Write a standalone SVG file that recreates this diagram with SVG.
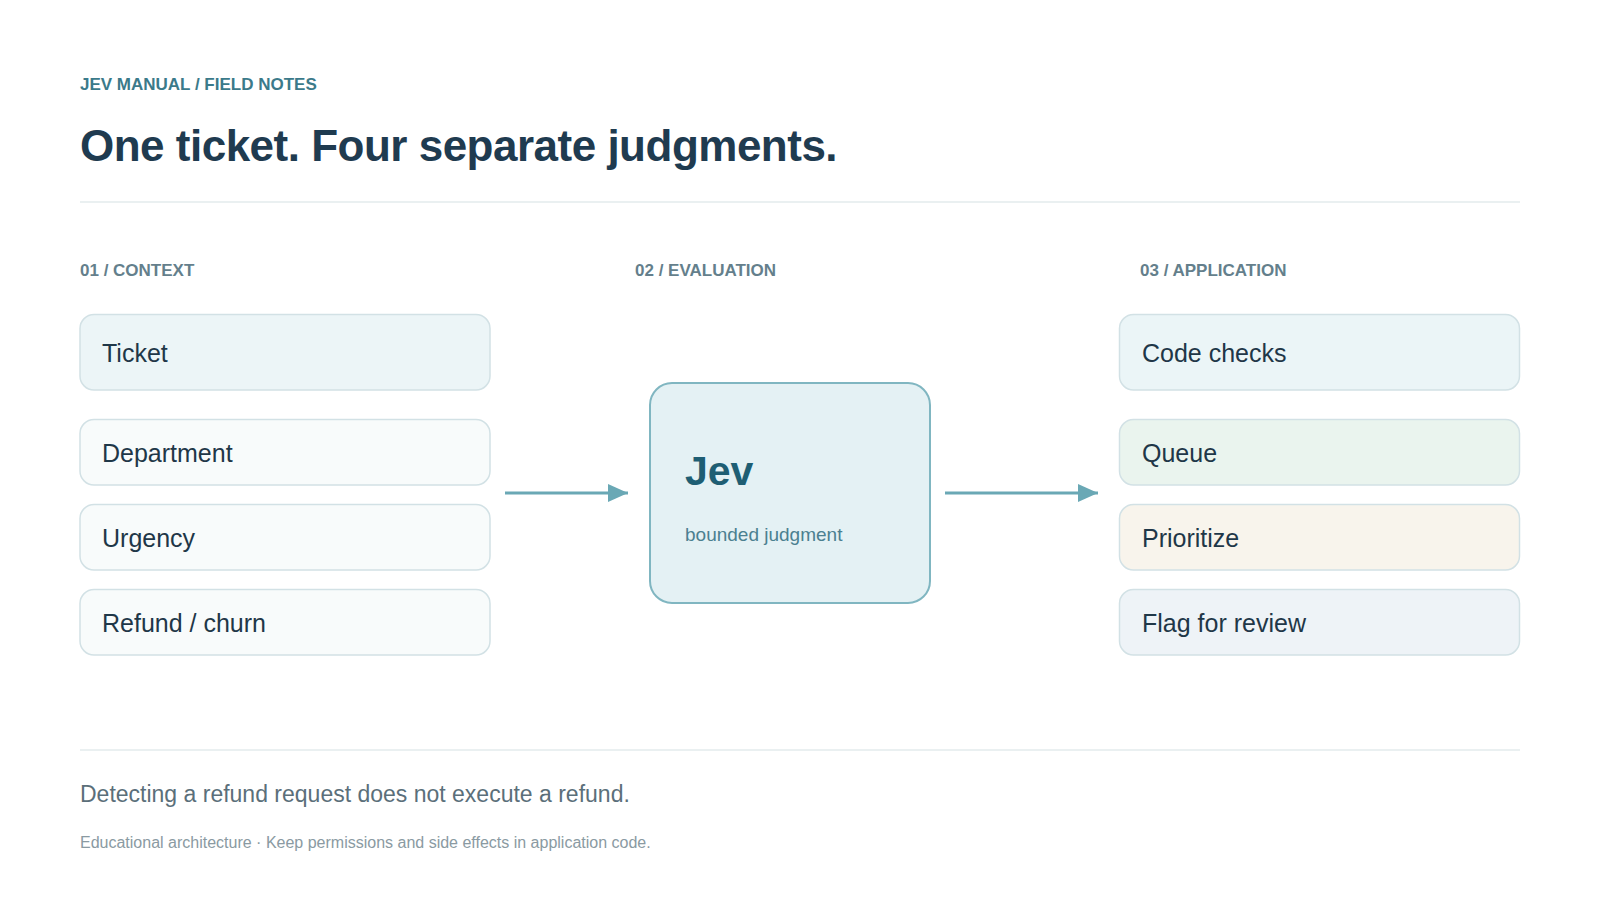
<svg xmlns="http://www.w3.org/2000/svg" width="1600" height="900" viewBox="0 0 1600 900">
  <style>
    .sans { font-family: "Liberation Sans", Arial, sans-serif; }
    .eyebrow { font-size: 17px; font-weight: bold; fill: #3b7a8a; }
    .title { font-size: 44px; font-weight: bold; fill: #1f3b50; letter-spacing: -0.5px; }
    .section { font-size: 17px; font-weight: bold; fill: #647f8c; }
    .box { stroke: #d2e1e5; stroke-width: 1.5; }
    .label { font-size: 25px; fill: #1f3748; }
    .divider { stroke: #e3ebed; stroke-width: 1.5; }
    .arrow { stroke: #6aa8b5; stroke-width: 3; fill: none; }
  </style>
  <defs>
    <marker id="arrowhead" viewBox="0 0 20 20" refX="20" refY="10" markerWidth="20" markerHeight="20" markerUnits="userSpaceOnUse" orient="auto">
      <path d="M0,1 L20,10 L0,19 Z" fill="#6aa8b5"/>
    </marker>
  </defs>
  <rect x="0" y="0" width="1600" height="900" fill="#ffffff"/>

  <g id="header" class="sans">
    <text class="eyebrow" x="80" y="90">JEV MANUAL / FIELD NOTES</text>
    <text class="title" x="80" y="161">One ticket. Four separate judgments.</text>
    <line class="divider" x1="80" y1="202" x2="1520" y2="202"/>
  </g>

  <g id="sections" class="sans">
    <text class="section" x="80" y="276">01 / CONTEXT</text>
    <text class="section" x="635" y="276">02 / EVALUATION</text>
    <text class="section" x="1140" y="276">03 / APPLICATION</text>
  </g>

  <g id="node-ticket" class="sans">
    <rect class="box" x="80" y="314.5" width="410" height="75.5" rx="14" fill="#ecf5f7"/>
    <text class="label" x="102" y="362">Ticket</text>
  </g>
  <g id="node-department" class="sans">
    <rect class="box" x="80" y="419.5" width="410" height="65.5" rx="14" fill="#f8fbfb"/>
    <text class="label" x="102" y="462">Department</text>
  </g>
  <g id="node-urgency" class="sans">
    <rect class="box" x="80" y="504.5" width="410" height="65.5" rx="14" fill="#f8fbfb"/>
    <text class="label" x="102" y="547">Urgency</text>
  </g>
  <g id="node-refund" class="sans">
    <rect class="box" x="80" y="589.5" width="410" height="65.5" rx="14" fill="#f8fbfb"/>
    <text class="label" x="102" y="632">Refund / churn</text>
  </g>

  <g id="node-jev" class="sans">
    <rect x="650" y="383" width="280" height="220" rx="22" fill="#e4f1f4" stroke="#80b6c1" stroke-width="2"/>
    <text x="685" y="485" font-size="41" font-weight="bold" fill="#1e5e73">Jev</text>
    <text x="685" y="541" font-size="19" fill="#4b8090">bounded judgment</text>
  </g>

  <g id="node-code-checks" class="sans">
    <rect class="box" x="1119.5" y="314.5" width="400" height="75.5" rx="14" fill="#ebf5f7"/>
    <text class="label" x="1142" y="362">Code checks</text>
  </g>
  <g id="node-queue" class="sans">
    <rect class="box" x="1119.5" y="419.5" width="400" height="65.5" rx="14" fill="#eaf4ee"/>
    <text class="label" x="1142" y="462">Queue</text>
  </g>
  <g id="node-prioritize" class="sans">
    <rect class="box" x="1119.5" y="504.5" width="400" height="65.5" rx="14" fill="#f8f4ec"/>
    <text class="label" x="1142" y="547">Prioritize</text>
  </g>
  <g id="node-flag" class="sans">
    <rect class="box" x="1119.5" y="589.5" width="400" height="65.5" rx="14" fill="#eef3f7"/>
    <text class="label" x="1142" y="632">Flag for review</text>
  </g>

  <g id="connectors">
    <line class="arrow" x1="505" y1="493" x2="628" y2="493" marker-end="url(#arrowhead)"/>
    <line class="arrow" x1="945" y1="493" x2="1098" y2="493" marker-end="url(#arrowhead)"/>
  </g>

  <g id="footer" class="sans">
    <line class="divider" x1="80" y1="750" x2="1520" y2="750"/>
    <text x="80" y="802" font-size="23" fill="#5b6f7a">Detecting a refund request does not execute a refund.</text>
    <text x="80" y="848" font-size="16" fill="#8a9aa2">Educational architecture · Keep permissions and side effects in application code.</text>
  </g>
</svg>
